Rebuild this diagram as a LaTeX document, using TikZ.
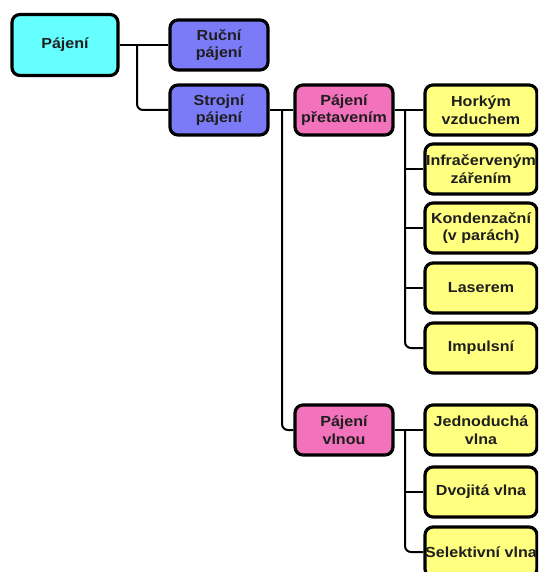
\documentclass[tikz,border=0pt]{standalone}
\usepackage{fontspec}
\setmainfont{Liberation Sans}[FakeStretch=1.1]
\usepackage{tikz}
\usetikzlibrary{positioning}
\usepackage{xcolor}
\definecolor{BoxCyan}{HTML}{66FFFF}
\definecolor{BoxBlue}{HTML}{7B7BF8}
\definecolor{BoxPink}{HTML}{F272BC}
\definecolor{BoxYellow}{HTML}{FFFF80}
\definecolor{BoxText}{HTML}{1E1E1E}

\begin{document}
\begin{tikzpicture}[x=1pt,y=-1pt,
    box/.style={draw=black,line width=3.2pt,rounded corners=8pt,align=center,
      inner xsep=0pt,inner ysep=0pt,minimum width=98pt,minimum height=50pt,
      text=BoxText,font=\bfseries\fontsize{14.6}{17.5}\selectfont},
    leaf/.style={box,fill=BoxYellow,minimum width=112pt},
    conn/.style={line width=2pt,rounded corners=6pt}]
    \clip (0,0) rectangle (538,572);

    \node[box,fill=BoxCyan,minimum width=106pt,minimum height=61pt] (pajeni) at (65,45) {Pájení};
    \node[box,fill=BoxBlue] (rucni) at (219,45) {Ruční\\pájení};
    \node[box,fill=BoxBlue] (strojni) at (219,110) {Strojní\\pájení};
    \node[box,fill=BoxPink] (pretav) at (344,110) {Pájení\\přetavením};
    \node[box,fill=BoxPink] (vlnou) at (344,430) {Pájení\\vlnou};

    \node[leaf] (horkym) at (481,110) {Horkým\\vzduchem};
    \node[leaf] (infra) at (481,169) {Infračerveným\\zářením};
    \node[leaf] (kondenz) at (481,228) {Kondenzační\\(v parách)};
    \node[leaf] (laser) at (481,288) {Laserem};
    \node[leaf] (impuls) at (481,348) {Impulsní};

    \node[leaf] (jedno) at (481,430) {Jednoduchá\\vlna};
    \node[leaf] (dvoj) at (481,492) {Dvojitá vlna};
    \node[leaf] (selekt) at (481,552) {Selektivní vlna};

    \coordinate (j1) at (137,45);
    \coordinate (j2) at (282,110);
    \coordinate (j3) at (405,110);
    \coordinate (j4) at (405,430);

    \draw[conn] (pajeni.east) -- (rucni.west);
    \draw[conn] (j1) |- (strojni.west);
    \draw[conn] (strojni.east) -- (pretav.west);
    \draw[conn] (j2) |- (vlnou.west);

    \draw[conn] (pretav.east) -- (horkym.west);
    \draw[conn] (j3) |- (impuls.west);
    \draw[conn] (j3 |- infra) -- (infra.west);
    \draw[conn] (j3 |- kondenz) -- (kondenz.west);
    \draw[conn] (j3 |- laser) -- (laser.west);

    \draw[conn] (vlnou.east) -- (jedno.west);
    \draw[conn] (j4) |- (selekt.west);
    \draw[conn] (j4 |- dvoj) -- (dvoj.west);
\end{tikzpicture}
\end{document}
